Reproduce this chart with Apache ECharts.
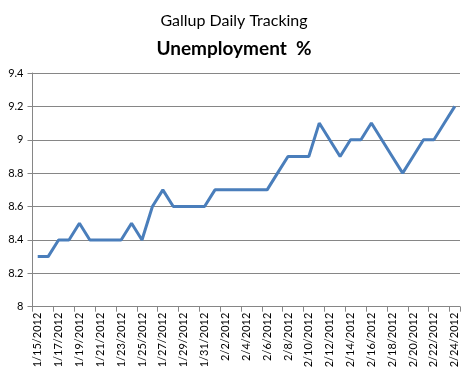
<!DOCTYPE html>
<html><head><meta charset="utf-8">
<script src="https://cdn.jsdelivr.net/npm/echarts@6/dist/echarts.min.js"></script>
<style>html,body{margin:0;padding:0;background:#fff}#c{width:468px;height:376px}</style>
</head><body><div id="c"></div>
<script>
const categories = ["1/15/2012","1/16/2012","1/17/2012","1/18/2012","1/19/2012","1/20/2012","1/21/2012","1/22/2012","1/23/2012","1/24/2012","1/25/2012","1/26/2012","1/27/2012","1/28/2012","1/29/2012","1/30/2012","1/31/2012","2/1/2012","2/2/2012","2/3/2012","2/4/2012","2/5/2012","2/6/2012","2/7/2012","2/8/2012","2/9/2012","2/10/2012","2/11/2012","2/12/2012","2/13/2012","2/14/2012","2/15/2012","2/16/2012","2/17/2012","2/18/2012","2/19/2012","2/20/2012","2/21/2012","2/22/2012","2/23/2012","2/24/2012"];
const unemployment = [8.3,8.3,8.4,8.4,8.5,8.4,8.4,8.4,8.4,8.5,8.4,8.6,8.7,8.6,8.6,8.6,8.6,8.7,8.7,8.7,8.7,8.7,8.7,8.8,8.9,8.9,8.9,9.1,9.0,8.9,9.0,9.0,9.1,9.0,8.9,8.8,8.9,9.0,9.0,9.1,9.2];
const titleText = "Gallup Daily Tracking";
const subtitleText = "Unemployment  %";

const chart = echarts.init(document.getElementById('c'), null, {renderer:'canvas'});
const font = 'Lato, "Open Sans", sans-serif';
chart.setOption({
  animation: false,
  title: [
    {text: titleText, left: 'center', top: 8, textStyle:{fontFamily:font, fontSize:16, fontWeight:'normal', color:'#000'}},
    {text: subtitleText, left: 'center', top: 34, textStyle:{fontFamily:font, fontSize:19, fontWeight:'bold', color:'#000'}}
  ],
  grid: {left: 32.5, right: 8, top: 73, bottom: 69.3, containLabel:false},
  xAxis: {
    type: 'category', data: categories, boundaryGap: true,
    axisLine: {lineStyle:{color:'#868686', width:1}},
    axisTick: {show:true, interval: 1, length: 5, lineStyle:{color:'#868686'}},
    axisLabel: {interval: 1, rotate: 90, fontFamily: font, fontSize: 11, color:'#000', margin: 6}
  },
  yAxis: {
    type: 'value', min: 8, max: 9.4, interval: 0.2,
    axisLine: {show:true, lineStyle:{color:'#868686', width:1}},
    axisTick: {show:true, length: 5, lineStyle:{color:'#868686'}},
    splitLine: {lineStyle:{color:'#868686', width:1}},
    axisLabel: {fontFamily: font, fontSize: 11, color:'#000', margin: 9,
      formatter: v => (Math.round(v*10)/10).toString()}
  },
  series: [{
    type: 'line', data: unemployment, symbol: 'none',
    lineStyle: {color:'#4a7ebb', width: 3}
  }]
});
</script></body></html>
